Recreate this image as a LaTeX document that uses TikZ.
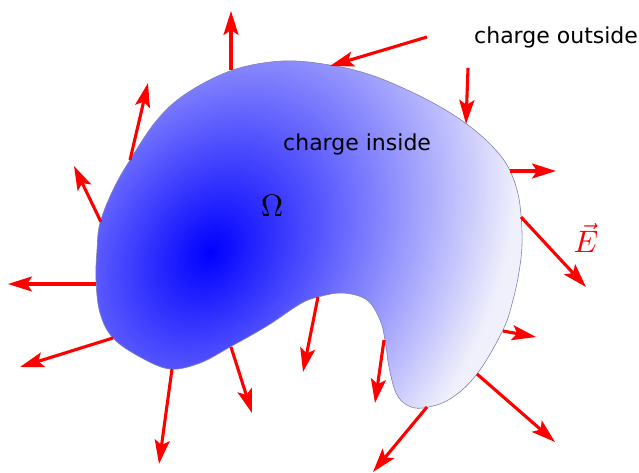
\documentclass[tikz,border=0pt]{standalone}
\usepackage{fontspec}
\newfontfamily\labelfont{DejaVu Sans}
\usetikzlibrary{arrows.meta}
\definecolor{fieldred}{RGB}{255,0,0}
\definecolor{blobedge}{RGB}{130,130,175}
\definecolor{blobpale}{RGB}{240,240,252}
\definecolor{blobcore}{RGB}{0,0,255}
\begin{document}
\begin{tikzpicture}[x=1pt,y=-1pt,
  field/.style={draw=fieldred, line width=3.1pt, -{Stealth[length=24pt,width=15pt,inset=5pt]}},
  lbl/.style={font=\labelfont\fontsize{22}{26}\selectfont, inner sep=0pt, anchor=base west}]
\useasboundingbox (0,0) rectangle (639,473);
% gradient-filled region
\begin{scope}
  \clip plot[smooth cycle, tension=0.6] coordinates {
    (233,70) (283,61) (330,65) (368,74) (403,88) (435,104) (464,122) (489,143) (507,165)
    (517,190) (521,215) (522,245) (519,272) (513,300) (503,330) (477,374) (450,399) (423,408)
    (407,405) (396,393) (389,367) (385,340) (380,320) (367,300) (343,293) (318,297)
    (300,304) (267,326) (230,347) (200,363) (170,369) (140,357) (113,338) (100,313)
    (96,280) (97,250) (100,223) (113,190) (130,160) (157,120) (187,93)};
  \fill[blobpale] (0,0) rectangle (639,473);
  \shade[inner color=blobcore, outer color=blobpale,
         transform canvas={rotate around={-35:(210,252)}}]
    (210,252) ellipse (278pt and 360pt);
\end{scope}
\draw[blobedge, line width=0.6pt] plot[smooth cycle, tension=0.6] coordinates {
    (233,70) (283,61) (330,65) (368,74) (403,88) (435,104) (464,122) (489,143) (507,165)
    (517,190) (521,215) (522,245) (519,272) (513,300) (503,330) (477,374) (450,399) (423,408)
    (407,405) (396,393) (389,367) (385,340) (380,320) (367,300) (343,293) (318,297)
    (300,304) (267,326) (230,347) (200,363) (170,369) (140,357) (113,338) (100,313)
    (96,280) (97,250) (100,223) (113,190) (130,160) (157,120) (187,93)};
% arrow end points
\coordinate (s1) at (231,70);   \coordinate (e1) at (231,11);
\coordinate (s2) at (130,160);  \coordinate (e2) at (148,83);
\coordinate (s3) at (101,222);  \coordinate (e3) at (74,166);
\coordinate (s4) at (96,284);   \coordinate (e4) at (8,284);
\coordinate (s5) at (113,338);  \coordinate (e5) at (20,367);
\coordinate (s6) at (172,369);  \coordinate (e6) at (159,464);
\coordinate (s7) at (231,347);  \coordinate (e7) at (252,413);
\coordinate (s8) at (318,297);  \coordinate (e8) at (303,372);
\coordinate (s9) at (384,340);  \coordinate (e9) at (375,403);
\coordinate (s10) at (427,407); \coordinate (e10) at (373,472);
\coordinate (s11) at (477,374); \coordinate (e11) at (555,442);
\coordinate (s12) at (503,331); \coordinate (e12) at (536,337);
\coordinate (s13) at (521,217); \coordinate (e13) at (586,287);
\coordinate (s14) at (510,171); \coordinate (e14) at (556,171);
\coordinate (s15) at (427,37);  \coordinate (e15) at (330,66);
\coordinate (s16) at (468,68);  \coordinate (e16) at (466,124);
\foreach \i in {1,...,16} { \draw[field] (s\i) -- (e\i); }
% labels
\node[lbl] (outside) at (474,43.3) {charge outside};
\node[lbl] (inside) at (283,151) {charge inside};
\node[inner sep=0pt] (omega) at (272,206) {\scalebox{3.1}{$\Omega$}};
\node[inner sep=0pt, text=fieldred] (efield) at (586,238) {\scalebox{3.1}{$\vec{E}$}};
\end{tikzpicture}
\end{document}
